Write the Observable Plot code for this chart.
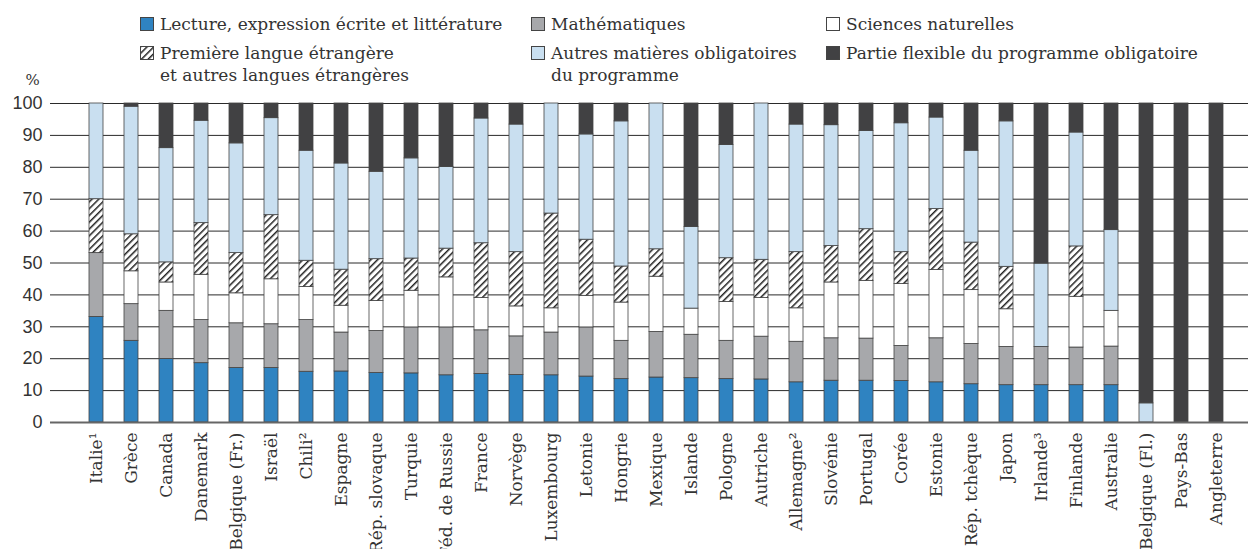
<!DOCTYPE html>
<html><head><meta charset="utf-8">
<script src="https://cdn.jsdelivr.net/npm/d3@7"></script>
<script src="https://cdn.jsdelivr.net/npm/@observablehq/plot@0.6"></script>
<style>
body{margin:0;background:#fff;}
#legend{position:relative;z-index:2;width:1248px;height:66px;font-family:"DejaVu Serif";font-size:17px;color:#333;}
.item{position:absolute;display:flex;align-items:flex-start;line-height:22px;white-space:nowrap;}
.sw{flex:none;margin-right:6px;margin-top:4px;}
#chart{position:relative;z-index:1;}
</style></head><body>
<svg width="0" height="0" style="position:absolute">
  <defs>
    <pattern id="hatch" patternUnits="userSpaceOnUse" width="4.8" height="4.8" patternTransform="rotate(45)">
      <rect width="4.8" height="4.8" fill="#fff"></rect>
      <rect width="1.5" height="4.8" fill="#222"></rect>
    </pattern>
  </defs>
</svg>
<div id="legend"></div>
<div id="chart"></div>
<script>
const countries = ["Italie¹","Grèce","Canada","Danemark","Belgique (Fr.)","Israël","Chili²","Espagne","Rép. slovaque","Turquie","Féd. de Russie","France","Norvège","Luxembourg","Letonie","Hongrie","Mexique","Islande","Pologne","Autriche","Allemagne²","Slovénie","Portugal","Corée","Estonie","Rép. tchèque","Japon","Irlande³","Finlande","Australie","Belgique (Fl.)","Pays-Bas","Angleterre"];

const series = ["Lecture, expression écrite et littérature","Mathématiques","Sciences naturelles","Première langue étrangère\net autres langues étrangères","Autres matières obligatoires\ndu programme","Partie flexible du programme obligatoire"];

const lecture  = [33.1,25.6,19.9,18.6,17.1,17.1,15.9,16.0,15.5,15.4,14.8,15.2,14.9,14.8,14.4,13.6,14.1,13.9,13.6,13.5,12.6,13.1,13.1,13.0,12.6,12.0,11.7,11.7,11.7,11.7,0,0,0];
const maths    = [20.0,11.5,15.1,13.5,14.0,13.7,16.2,12.2,13.2,14.4,15.0,13.7,12.1,13.4,15.4,12.0,14.3,13.6,12.0,13.4,12.7,13.3,13.2,11.0,13.8,12.6,12.0,12.0,11.8,12.1,0,0,0];
const sciences = [0,10.3,8.9,14.2,9.4,14.1,10.4,8.4,9.4,11.5,15.7,10.1,9.4,7.6,9.9,12.0,17.3,8.2,12.2,12.1,10.5,17.5,18.1,19.4,21.4,16.9,11.8,0,15.9,11.2,0,0,0];
const langues  = [16.9,11.6,6.3,16.2,12.6,20.1,8.2,11.3,13.1,10.1,9.0,17.2,17.0,29.7,17.6,11.3,8.6,0,13.7,12.0,17.6,11.4,16.2,10.0,19.1,14.9,13.3,0,15.8,0,0,0,0];
const autres   = [30.0,40.0,35.8,32.1,34.4,30.4,34.5,33.3,27.4,31.4,25.6,39.1,40.0,34.5,33.0,45.5,45.7,25.6,35.5,49.0,40.0,37.9,30.8,40.4,28.7,28.8,45.6,26.1,35.7,25.3,6.0,0,0];
const flexible = [0,1.0,14.0,5.4,12.5,4.6,14.8,18.8,21.4,17.2,19.9,4.7,6.6,0,9.7,5.6,0,38.7,13.0,0,6.6,6.8,8.6,6.2,4.4,14.8,5.6,50.2,9.1,39.7,94.0,100,100];

const yTicks = [0,10,20,30,40,50,60,70,80,90,100];
const yUnit = "%";
const colors = ["#2f83c1","#a7a8ab","#ffffff","url(#hatch)","#c9dff0","#414143"];

const values = [lecture, maths, sciences, langues, autres, flexible];
const data = [];
series.forEach((s, i) => countries.forEach((c, j) => {
  const v = values[i][j];
  if (v > 0) data.push({country: c, series: s, value: v});
}));

// legend (HTML, above the SVG)
const legend = document.getElementById("legend");
const colLeft = [140, 531, 826];
const rowTop = [13, 42];
series.forEach((s, i) => {
  const item = document.createElement("div");
  item.className = "item";
  item.style.left = colLeft[i % 3] + "px";
  item.style.top = rowTop[Math.floor(i / 3)] + "px";
  const sw = document.createElementNS("http://www.w3.org/2000/svg", "svg");
  sw.setAttribute("width", 14); sw.setAttribute("height", 14);
  sw.setAttribute("class", "sw");
  const r = document.createElementNS("http://www.w3.org/2000/svg", "rect");
  r.setAttribute("x", 0.5); r.setAttribute("y", 0.5);
  r.setAttribute("width", 13); r.setAttribute("height", 13);
  r.setAttribute("fill", colors[i]); r.setAttribute("stroke", "#444");
  sw.appendChild(r);
  const t = document.createElement("div");
  t.innerHTML = s.split("\n").join("<br>");
  item.appendChild(sw); item.appendChild(t);
  legend.appendChild(item);
});

const chart = Plot.plot({
  width: 1248, height: 483,
  marginLeft: 50, marginRight: 0, marginTop: 37, marginBottom: 127,
  style: {background: "transparent", color: "#333"},
  x: {domain: countries, paddingInner: 0.61, paddingOuter: 0.49, align: 0.6, label: null},
  y: {domain: [0, 100], label: null},
  color: {domain: series, range: colors},
  marks: [
    Plot.ruleY(yTicks.filter(d => d > 0), {stroke: "#2a2a2a", strokeWidth: 1}),
    Plot.barY(data, {x: "country", y: "value", fill: "series", stroke: "#444", strokeWidth: 0.8, order: series}),
    Plot.ruleY([0], {stroke: "#666", strokeWidth: 2}),
    Plot.axisY({ticks: yTicks, tickSize: 0, tickPadding: 8, fontFamily: "Liberation Sans", fontSize: 18, label: null}),
    Plot.text([yUnit], {frameAnchor: "top-left", dx: -25, dy: -23, text: d => d, fontFamily: "DejaVu Serif", fontSize: 15, fill: "#333", lineAnchor: "middle"}),
    Plot.axisX({tickSize: 0, tickRotate: -90, tickPadding: 10, fontFamily: "DejaVu Serif", fontSize: 17, label: null})
  ]
});
document.getElementById("chart").appendChild(chart);
</script>
</body></html>
